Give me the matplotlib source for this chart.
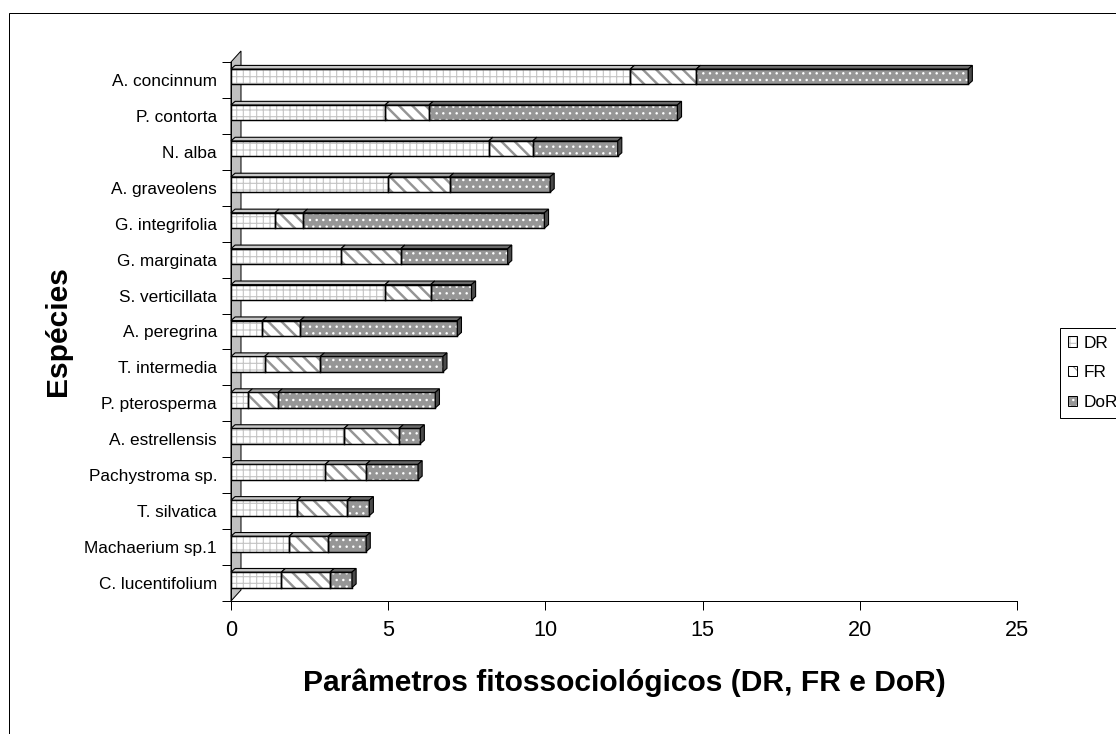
import matplotlib
matplotlib.use("Agg")
import matplotlib.pyplot as plt
from matplotlib.patches import Polygon, Patch, Rectangle

# Arial-like font, like the Excel original
plt.rcParams['font.family'] = ['Liberation Sans', 'DejaVu Sans']

especies = ["A. concinnum", "P. contorta", "N. alba", "A. graveolens", "G. integrifolia",
            "G. marginata", "S. verticillata", "A. peregrina", "T. intermedia", "P. pterosperma",
            "A. estrellensis", "Pachystroma sp.", "T. silvatica", "Machaerium sp.1", "C. lucentifolium"]
dr = [12.7, 4.9, 8.2, 5.0, 1.4, 3.5, 4.9, 1.0, 1.07, 0.55, 3.6, 3.0, 2.1, 1.85, 1.6]
fr = [2.1, 1.4, 1.4, 1.95, 0.9, 1.9, 1.45, 1.2, 1.77, 0.95, 1.75, 1.3, 1.6, 1.25, 1.55]
dor = [8.65, 7.9, 2.7, 3.2, 7.67, 3.4, 1.3, 5.0, 3.9, 5.0, 0.67, 1.65, 0.7, 1.2, 0.7]
xticks = [0, 5, 10, 15, 20, 25]

# label, values, face colour, hatch colour, hatch, hatch width, top face colour
series = [
    ("DR", dr, "white", "#c4c4c4", "++", 1.0, "#c8c8c8"),
    ("FR", fr, "white", "#959595", "\\\\", 2.2, "#a0a0a0"),
    ("DoR", dor, "#969696", "white", "..", 1.0, "#6a6a6a"),
]

W, H, DPI = 1116, 734, 80
fig = plt.figure(figsize=(W / DPI, H / DPI), dpi=DPI)
ax = fig.add_axes([231 / W, (H - 601) / H, 786 / W, 539 / H])

n = len(especies)
ax.set_xlim(0, 25)
ax.set_ylim(n, 0)

# 3D look: depth offset of bars and of the side wall (data units)
ddx, ddy = 0.13, -0.10
wdx, wdy = 10 / 31.45, -11 / 35.9

wall = Polygon([(0, n), (wdx, n + wdy), (wdx, wdy), (0, 0)], closed=True,
               facecolor="#c0c0c0", edgecolor="black", lw=0.9, zorder=1, clip_on=False)
ax.add_patch(wall)

yc = [i + 0.41 for i in range(n)]
bh = 0.43
left = [0.0] * n
for label, vals, face, hcol, hatch, hlw, topc in series:
    bars = ax.barh(yc, vals, height=bh, left=left, color=face, edgecolor=hcol,
                   hatch=hatch, linewidth=0, zorder=3)
    for p in bars:
        if hasattr(p, "set_hatch_linewidth"):
            p.set_hatch_linewidth(hlw)
    ax.barh(yc, vals, height=bh, left=left, fill=False, edgecolor="black",
            linewidth=1.3, zorder=4)
    for i in range(n):
        x0 = left[i]
        x1 = left[i] + vals[i]
        ytop = yc[i] - bh / 2
        top = Polygon([(x0, ytop), (x1, ytop), (x1 + ddx, ytop + ddy), (x0 + ddx, ytop + ddy)],
                      closed=True, facecolor=topc, edgecolor="black", lw=1.0, zorder=4, clip_on=False)
        ax.add_patch(top)
    left = [left[i] + vals[i] for i in range(n)]

# side face at the end of each bar
for i in range(n):
    x1 = left[i]
    ytop = yc[i] - bh / 2
    ybot = yc[i] + bh / 2
    side = Polygon([(x1, ybot), (x1, ytop), (x1 + ddx, ytop + ddy), (x1 + ddx, ybot + ddy)],
                   closed=True, facecolor="#4a4a4a", edgecolor="black", lw=1.0, zorder=4, clip_on=False)
    ax.add_patch(side)

ax.spines['top'].set_visible(False)
ax.spines['right'].set_visible(False)
ax.spines['left'].set_linewidth(0.9)
ax.spines['bottom'].set_linewidth(0.9)

ax.set_xticks(xticks)
ax.tick_params(axis='x', direction='out', length=8, width=0.9, pad=9, labelsize=19.5)
ax.set_yticks(range(n + 1))
ax.set_yticklabels([])
ax.tick_params(axis='y', which='major', direction='out', length=8, width=0.9)
ax.set_yticks([i + 0.5 for i in range(n)], minor=True)
ax.set_yticklabels(especies, minor=True)
ax.tick_params(axis='y', which='minor', length=0, pad=12.5, labelsize=15.5)

fig.text(624 / W, (H - 683) / H, "Parâmetros fitossociológicos (DR, FR e DoR)",
         ha='center', va='center', fontsize=27, fontweight='bold')
fig.text(58 / W, (H - 331) / H, "Espécies", rotation=90,
         ha='center', va='center', fontsize=27, fontweight='bold')

handles = []
for label, vals, face, hcol, hatch, hlw, topc in series:
    a = Patch(facecolor=face, edgecolor=hcol, hatch=hatch, linewidth=0)
    b = Patch(fill=False, edgecolor="black", linewidth=0.9)
    handles.append((a, b))
leg = ax.legend(handles, [s[0] for s in series], loc='upper left',
                bbox_to_anchor=(1060 / W, (H - 328) / H), bbox_transform=fig.transFigure,
                frameon=True, fancybox=False, framealpha=1, edgecolor="black",
                fontsize=15.5, handlelength=0.55, handleheight=0.55, handletextpad=0.4,
                labelspacing=0.85, borderpad=0.45, borderaxespad=0)
leg.get_frame().set_linewidth(0.9)

# chart area border
border = Rectangle((8.5 / W, -0.05), 1.2, (H - 12.5) / H + 0.05, transform=fig.transFigure,
                   fill=False, edgecolor="black", linewidth=0.9)
fig.add_artist(border)

fig.savefig("out.png", dpi=DPI)
